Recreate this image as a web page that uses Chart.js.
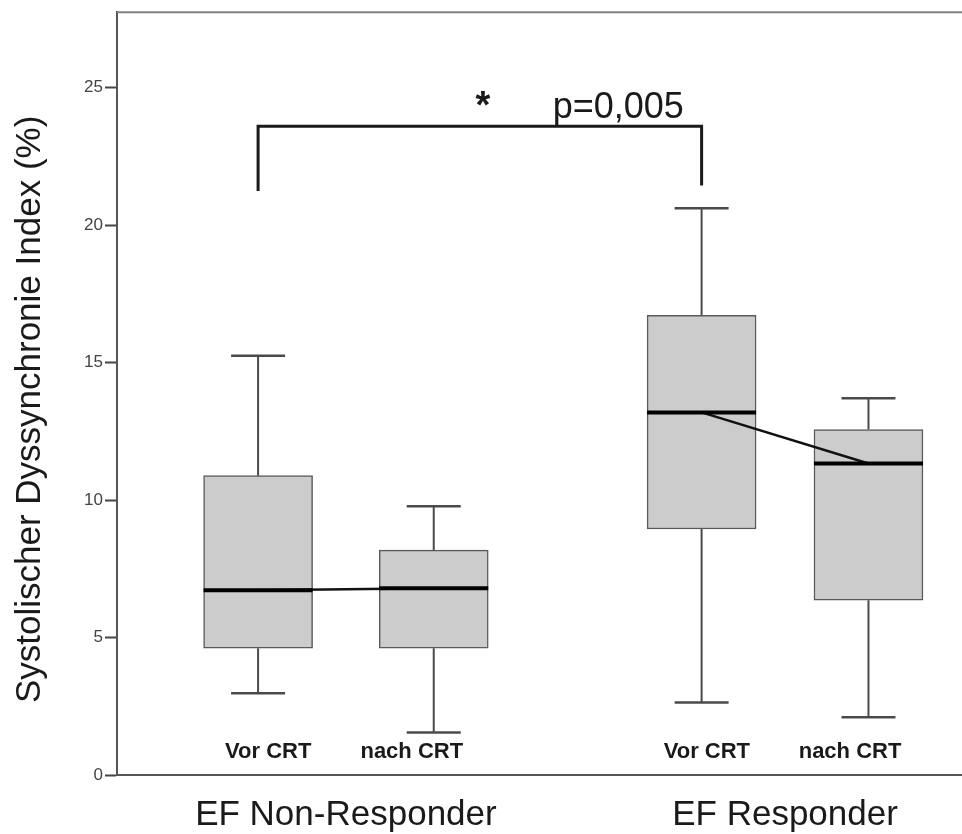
<!DOCTYPE html>
<html><head><meta charset="utf-8">
<script src="https://cdn.jsdelivr.net/npm/chart.js@4.4.1/dist/chart.umd.min.js"></script>
<style>html,body{margin:0;padding:0;background:#fff}canvas{display:block}</style>
</head><body>
<canvas id="c" width="962" height="834"></canvas>
<script>
// ---- data ----
const groupLabels = ['EF Non-Responder', 'EF Responder'];
const groupPos = [1, 2];
const boxLabels = ['Vor CRT', 'nach CRT', 'Vor CRT', 'nach CRT'];
const boxPos = [0.8, 1.2, 1.81, 2.19];
const boxLabelPos = [0.823, 1.15, 1.822, 2.148];
const whiskerMin = [2.97, 1.55, 2.64, 2.10];
const q1 = [4.61, 4.61, 8.95, 6.36];
const median = [6.72, 6.79, 13.19, 11.33];
const q3 = [10.89, 8.18, 16.72, 12.57];
const whiskerMax = [15.25, 9.78, 20.62, 13.71];
const yTicks = [0, 5, 10, 15, 20, 25];
const yTitle = 'Systolischer Dyssynchronie Index (%)';
const yTitleCenter = 13.3;
const bracketTop = 23.6;
const bracketEnds = [21.3, 21.5];
const bracketBoxes = [0, 2];
const starText = '*';
const pText = 'p=0,005';
const starPos = [1.312, 24.57];
const pPos = [1.471, 23.9];
const boxLabelY = 0.83;

const FONT = "'Liberation Sans', Arial, Helvetica, sans-serif";

// ---- datasets built from data ----
const boxData = boxPos.map((x, i) => ({x, y: [q1[i], q3[i]]}));
const whiskerData = [];
boxPos.forEach((x, i) => {
  whiskerData.push({x, y: whiskerMin[i]}, {x, y: q1[i]}, {x, y: null},
                   {x, y: q3[i]}, {x, y: whiskerMax[i]}, {x, y: null});
});
const capData = [];
boxPos.forEach((x, i) => { capData.push({x, y: whiskerMin[i]}, {x, y: whiskerMax[i]}); });
const medianData = boxPos.map((x, i) => ({x, y: median[i]}));
const connectorData = [
  {x: boxPos[0], y: median[0]}, {x: boxPos[1], y: median[1]}, {x: boxPos[1], y: null},
  {x: boxPos[2], y: median[2]}, {x: boxPos[3], y: median[3]}
];
const bracketData = [
  {x: boxPos[bracketBoxes[0]], y: bracketEnds[0]},
  {x: boxPos[bracketBoxes[0]], y: bracketTop},
  {x: boxPos[bracketBoxes[1]], y: bracketTop},
  {x: boxPos[bracketBoxes[1]], y: bracketEnds[1]}
];

const textPlugin = {
  id: 'texts',
  afterDatasetsDraw(chart) {
    const {ctx, chartArea, scales: {x, y}} = chart;
    ctx.save();
    // top frame line
    ctx.strokeStyle = '#808080';
    ctx.lineWidth = 2;
    ctx.beginPath();
    ctx.moveTo(chartArea.left, chartArea.top);
    ctx.lineTo(chartArea.right, chartArea.top);
    ctx.stroke();
    // box labels
    ctx.fillStyle = '#1a1a1a';
    ctx.font = 'bold 22px ' + FONT;
    ctx.textAlign = 'center';
    ctx.textBaseline = 'middle';
    boxLabels.forEach((t, i) => {
      ctx.fillText(t, x.getPixelForValue(boxLabelPos[i]), y.getPixelForValue(boxLabelY));
    });
    // significance
    ctx.font = 'bold 38px ' + FONT;
    ctx.fillText(starText, x.getPixelForValue(starPos[0]), y.getPixelForValue(starPos[1]) + 8);
    ctx.font = '36px ' + FONT;
    ctx.textAlign = 'left';
    ctx.textBaseline = 'alphabetic';
    ctx.fillText(pText, x.getPixelForValue(pPos[0]), y.getPixelForValue(pPos[1]));
    // y axis title
    ctx.translate(30, y.getPixelForValue(yTitleCenter));
    ctx.rotate(-Math.PI / 2);
    ctx.font = '35px ' + FONT;
    ctx.textAlign = 'center';
    ctx.textBaseline = 'middle';
    ctx.fillText(yTitle, 0, 0);
    ctx.restore();
  }
};

new Chart(document.getElementById('c'), {
  type: 'bar',
  data: {
    datasets: [
      {type: 'bar', data: boxData, barThickness: 109, grouped: false,
       backgroundColor: '#cccccc', borderColor: '#5a5a5a', borderWidth: 1.5,
       borderSkipped: false, order: 6},
      {type: 'line', data: whiskerData, borderColor: '#4a4a4a', borderWidth: 2,
       pointRadius: 0, spanGaps: false, order: 7},
      {type: 'line', data: capData, showLine: false, pointStyle: 'line',
       pointRadius: 27, pointBorderWidth: 2.5, pointBorderColor: '#4a4a4a', order: 5},
      {type: 'line', data: connectorData, borderColor: '#111', borderWidth: 2.5,
       pointRadius: 0, spanGaps: false, order: 3},
      {type: 'line', data: medianData, showLine: false, pointStyle: 'line',
       pointRadius: 54.5, pointBorderWidth: 4, pointBorderColor: '#000', order: 2},
      {type: 'line', data: bracketData, borderColor: '#1a1a1a', borderWidth: 3,
       pointRadius: 0, borderCapStyle: 'square', borderJoinStyle: 'miter', order: 1, clip: false}
    ]
  },
  options: {
    responsive: false,
    animation: false,
    devicePixelRatio: 1,
    events: [],
    layout: {autoPadding: false, padding: {top: 9, left: 0, right: 0, bottom: 0}},
    plugins: {legend: {display: false}, tooltip: {enabled: false}},
    scales: {
      x: {
        type: 'linear', position: 'bottom', min: 0.4787, max: 2.403, offset: false,
        afterBuildTicks: a => { a.ticks = groupPos.map(v => ({value: v})); },
        afterFit: a => { a.height = 59; },
        ticks: {callback: (v, i) => groupLabels[i], autoSkip: false, maxRotation: 0,
                font: {family: FONT, size: 35}, color: '#1a1a1a', padding: 19},
        grid: {display: true, drawOnChartArea: false, drawTicks: false},
        border: {display: true, color: '#555', width: 2}
      },
      y: {
        type: 'linear', min: 0, max: 27.75,
        afterBuildTicks: a => { a.ticks = yTicks.map(v => ({value: v})); },
        afterFit: a => { a.width = 117; },
        ticks: {font: {family: FONT, size: 17}, color: '#444', padding: 2},
        grid: {display: true, drawOnChartArea: false, drawTicks: true, tickLength: 12,
               tickColor: '#444', tickWidth: 2},
        border: {display: true, color: '#555', width: 2},
        title: {display: false}
      }
    }
  },
  plugins: [textPlugin]
});
</script>
</body></html>
